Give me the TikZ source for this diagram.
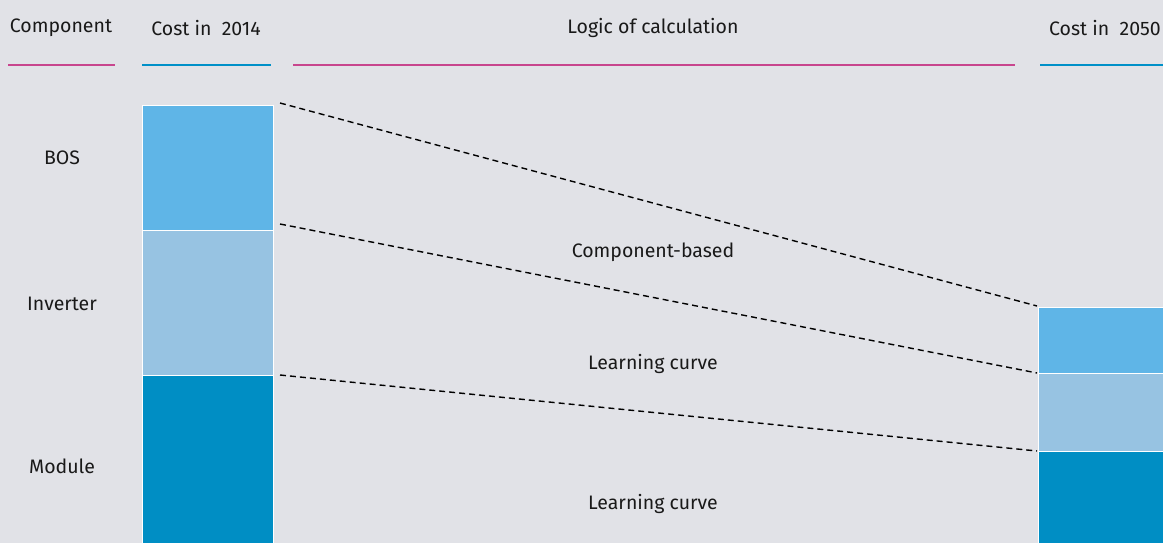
\documentclass[tikz,border=0pt]{standalone}
\usepackage{fontspec}
\setmainfont{Fira Sans}
\definecolor{bg}{HTML}{E1E2E7}
\definecolor{pinkline}{HTML}{C8468E}
\definecolor{blueline}{HTML}{0090C8}
\definecolor{bos}{HTML}{5FB5E7}
\definecolor{inv}{HTML}{97C3E2}
\definecolor{mod}{HTML}{008EC4}
\tikzset{
  lbl/.style={font=\fontsize{19.5}{23}\selectfont, text=black!90, inner sep=0pt},
  rule/.style={line width=2.4pt},
  conn/.style={line width=1.4pt, dash pattern=on 6pt off 4pt}
}
\begin{document}
\begin{tikzpicture}[x=1pt,y=-1pt]
\useasboundingbox (0,0) rectangle (1163,543);
\fill[bg] (0,0) rectangle (1163,543);
% headers
\node[lbl] (hcomp) at (61,28) {Component};
\node[lbl] (h2014) at (206,28) {Cost in\ \ 2014};
\node[lbl] (hlogic) at (653,28) {Logic of calculation};
\node[lbl, anchor=east] (h2050) at (1161,28) {Cost in\ \ 2050};
% header rules
\draw[rule, pinkline] (8,65) -- (115,65);
\draw[rule, blueline] (142,65) -- (271,65);
\draw[rule, pinkline] (293,65) -- (1015,65);
\draw[rule, blueline] (1040,65) -- (1163,65);
% left bar
\fill[bos] (142,105) rectangle (273,230);
\fill[inv] (142,230) rectangle (273,375);
\fill[mod] (142,375) rectangle (273,543);
\draw[white, line width=0.8pt] (142,230) -- (273,230);
\draw[white, line width=0.8pt] (142,375) -- (273,375);
\draw[white, line width=0.6pt] (142,543) -- (142,105) -- (273,105) -- (273,543);
\coordinate (lbos) at (280,103);
\coordinate (linv) at (280,224);
\coordinate (lmod) at (280,375);
% right bar
\fill[bos] (1038,307) rectangle (1163,373);
\fill[inv] (1038,373) rectangle (1163,451);
\fill[mod] (1038,451) rectangle (1163,543);
\draw[white, line width=0.8pt] (1038,373) -- (1163,373);
\draw[white, line width=0.8pt] (1038,451) -- (1163,451);
\draw[white, line width=0.6pt] (1038,543) -- (1038,307) -- (1163,307);
\coordinate (rbos) at (1037,306);
\coordinate (rinv) at (1037,373);
\coordinate (rmod) at (1037,451);
% connectors
\draw[conn] (lbos) -- (rbos);
\draw[conn] (linv) -- (rinv);
\draw[conn] (lmod) -- (rmod);
% labels
\node[lbl] (tbos) at (62,158) {BOS};
\node[lbl] (tinv) at (62,304) {Inverter};
\node[lbl] (tmod) at (62,466) {Module};
\node[lbl] (lc1) at (653,252) {Component-based};
\node[lbl] (lc2) at (653,364) {Learning curve};
\node[lbl] (lc3) at (653,504) {Learning curve};
\end{tikzpicture}
\end{document}
